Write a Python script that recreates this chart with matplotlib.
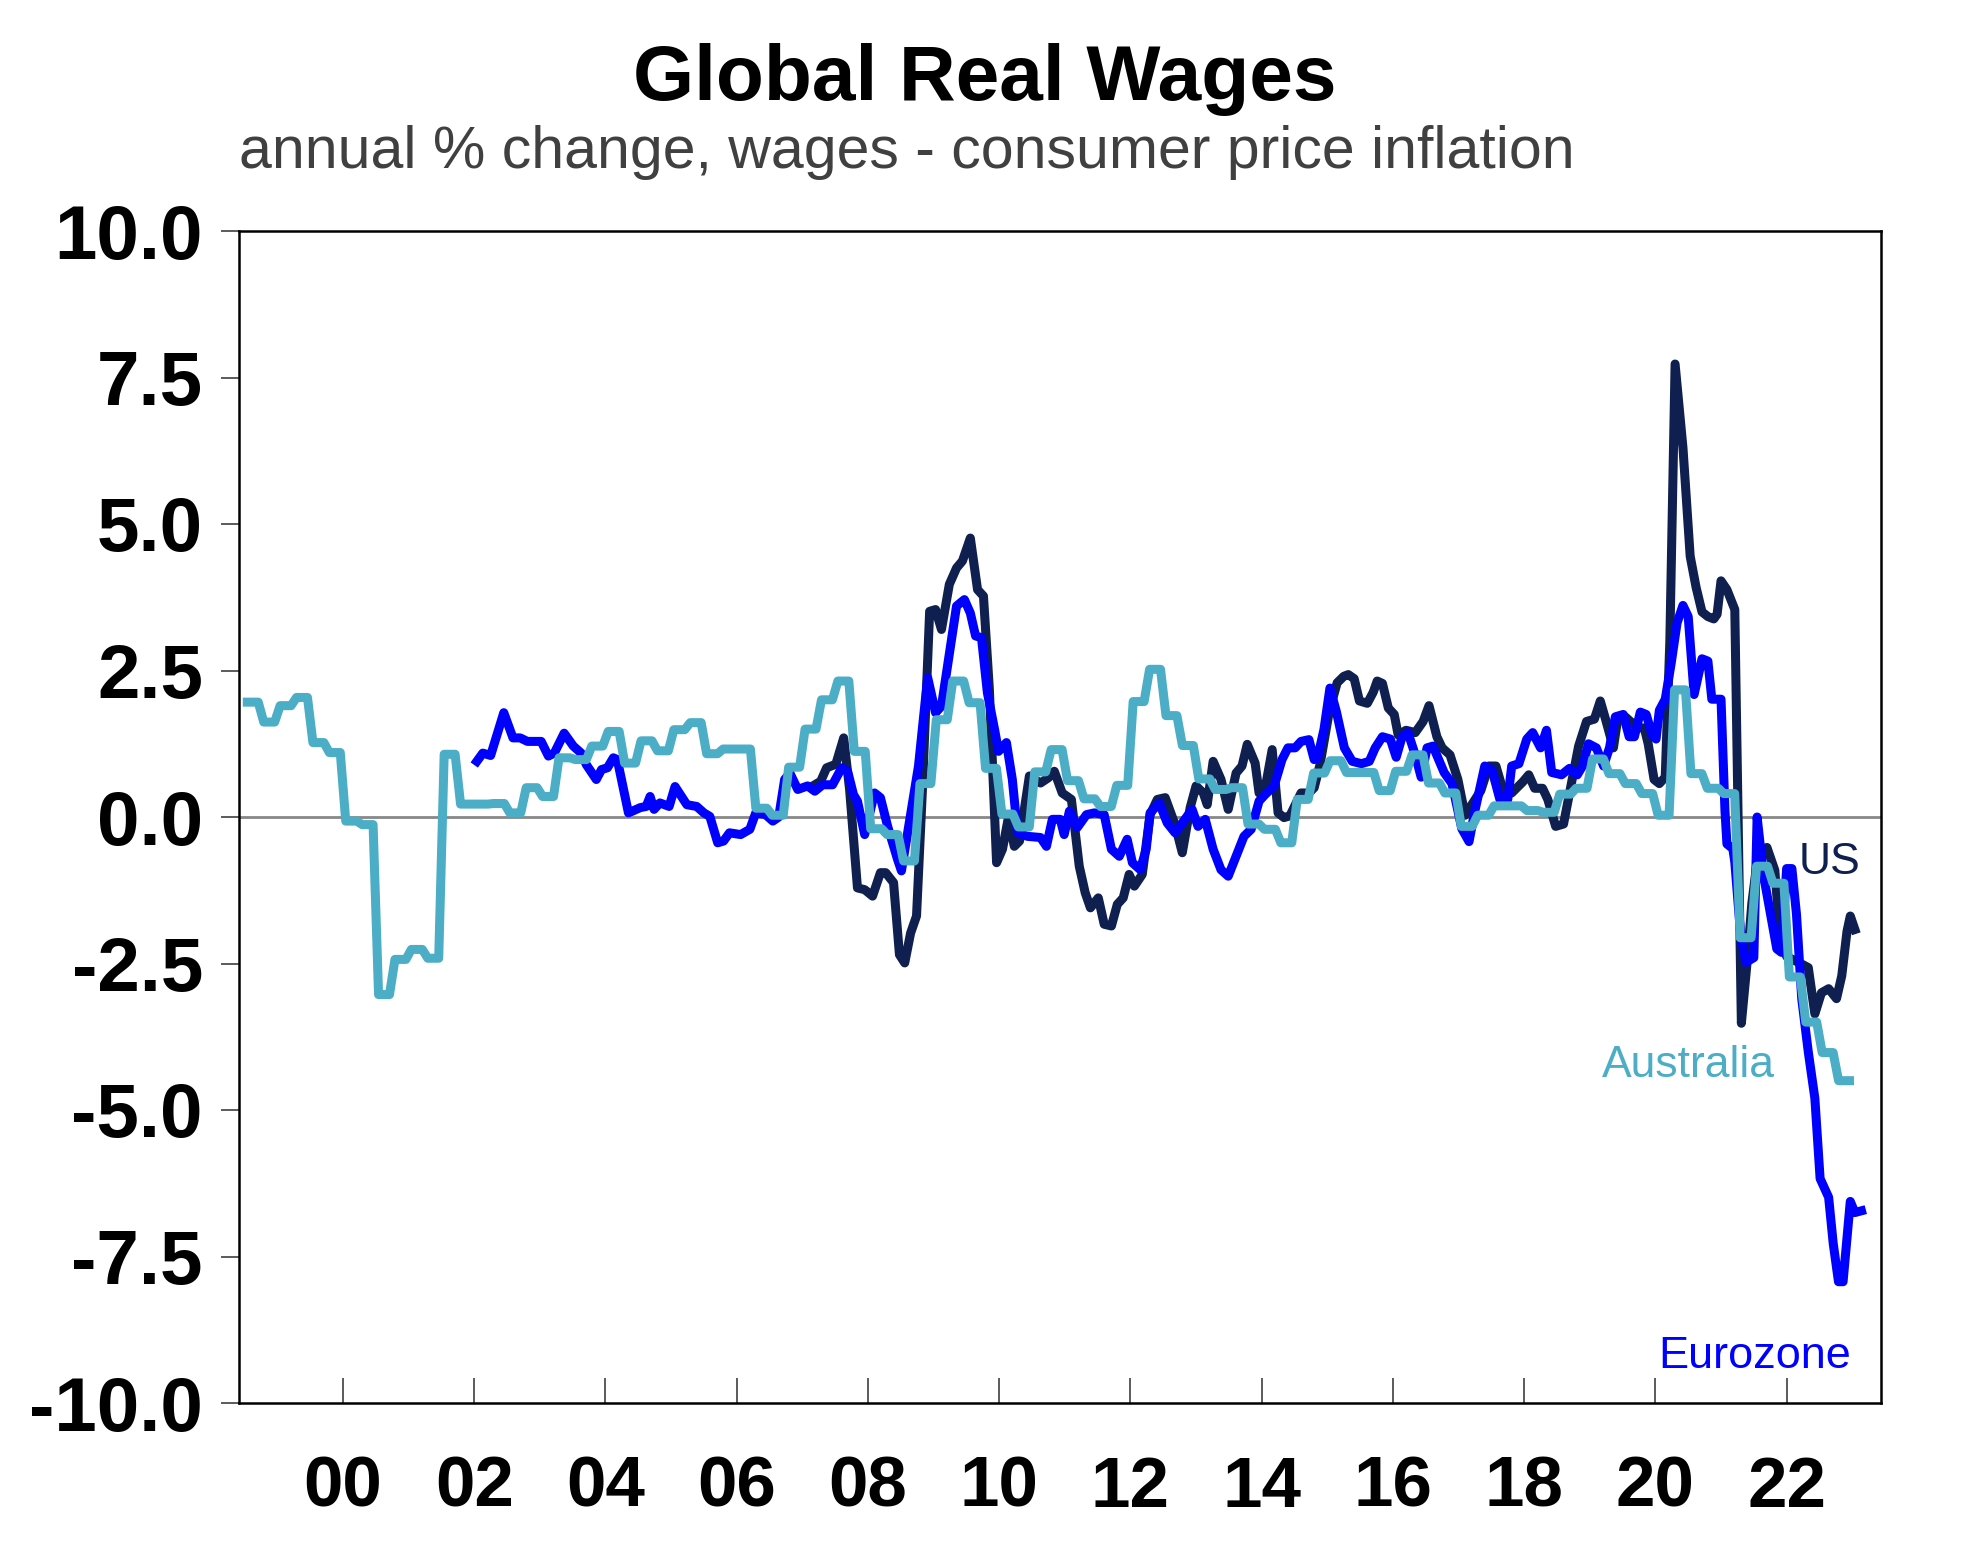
import numpy as np
import matplotlib
matplotlib.use('Agg')
import matplotlib.pyplot as plt

plt.rcParams['font.family'] = ['Liberation Sans', 'DejaVu Sans']
plt.rcParams['axes.unicode_minus'] = False

## Australia: quarterly values, Q3 1998 .. Q4 2022 (shown monthly, value held over the quarter)
au_first_quarter = 1998.5
au_q = [1.96, 1.62,
        1.90, 2.04, 1.27, 1.10,
        -0.07, -0.13, -3.03, -2.43,
        -2.26, -2.41, 1.07, 0.22,
        0.22, 0.23, 0.07, 0.50,
        0.35, 1.01, 0.98, 1.21,
        1.46, 0.92, 1.30, 1.13,
        1.49, 1.61, 1.08, 1.16,
        1.16, 0.15, 0.03, 0.85,
        1.50, 2.00, 2.32, 1.12,
        -0.20, -0.30, -0.75, 0.57,
        1.66, 2.32, 1.95, 0.83,
        0.05, -0.17, 0.77, 1.15,
        0.62, 0.31, 0.18, 0.54,
        1.97, 2.52, 1.73, 1.22,
        0.65, 0.47, 0.50, -0.12,
        -0.21, -0.44, 0.30, 0.75,
        0.96, 0.76, 0.76, 0.45,
        0.78, 1.06, 0.58, 0.41,
        -0.16, 0.03, 0.19, 0.19,
        0.11, 0.08, 0.39, 0.49,
        0.99, 0.74, 0.57, 0.40,
        0.03, 2.17, 0.74, 0.49,
        0.40, -2.06, -0.84, -1.13,
        -2.73, -3.50, -4.02, -4.50]

## Eurozone (decimal year, %)
ez_t = [2002.04, 2002.13, 2002.25, 2002.45, 2002.59, 2002.70, 2002.81, 2003.02, 2003.13, 2003.22,
        2003.37, 2003.51, 2003.63, 2003.71, 2003.86, 2003.94, 2004.03, 2004.12, 2004.18, 2004.35,
        2004.53, 2004.62, 2004.68, 2004.74, 2004.83, 2004.97, 2005.06, 2005.24, 2005.39, 2005.50,
        2005.59, 2005.71, 2005.80, 2005.89, 2006.06, 2006.20, 2006.29, 2006.44, 2006.55, 2006.64,
        2006.73, 2006.81, 2006.93, 2007.08, 2007.19, 2007.31, 2007.46, 2007.60, 2007.69, 2007.78,
        2007.84, 2007.95, 2008.10, 2008.19, 2008.30, 2008.45, 2008.51, 2008.65, 2008.77, 2008.91,
        2009.03, 2009.12, 2009.35, 2009.47, 2009.56, 2009.64, 2009.73, 2009.82, 2009.93, 2009.99,
        2010.11, 2010.20, 2010.28, 2010.43, 2010.63, 2010.72, 2010.81, 2010.93, 2010.99, 2011.07,
        2011.19, 2011.33, 2011.45, 2011.60, 2011.71, 2011.83, 2011.95, 2012.03, 2012.15, 2012.24,
        2012.30, 2012.44, 2012.56, 2012.68, 2012.79, 2012.94, 2013.03, 2013.14, 2013.26, 2013.38,
        2013.49, 2013.61, 2013.73, 2013.84, 2013.96, 2014.05, 2014.19, 2014.31, 2014.40, 2014.51,
        2014.60, 2014.72, 2014.80, 2014.85, 2014.95, 2015.04, 2015.14, 2015.26, 2015.38, 2015.52,
        2015.64, 2015.73, 2015.84, 2015.96, 2016.05, 2016.14, 2016.23, 2016.34, 2016.43, 2016.52,
        2016.61, 2016.78, 2016.90, 2017.05, 2017.16, 2017.25, 2017.40, 2017.51, 2017.63, 2017.75,
        2017.81, 2017.92, 2018.04, 2018.13, 2018.25, 2018.34, 2018.42, 2018.57, 2018.69, 2018.81,
        2018.89, 2018.98, 2019.10, 2019.21, 2019.30, 2019.39, 2019.51, 2019.60, 2019.68, 2019.77,
        2019.86, 2019.95, 2020.01, 2020.06, 2020.15, 2020.24, 2020.33, 2020.42, 2020.50, 2020.59,
        2020.71, 2020.80, 2020.86, 2021.00, 2021.06, 2021.09, 2021.18, 2021.21, 2021.30, 2021.38,
        2021.50, 2021.55, 2021.65, 2021.85, 2021.92, 2022.00, 2022.08, 2022.15, 2022.23, 2022.33,
        2022.43, 2022.51, 2022.64, 2022.71, 2022.79, 2022.86, 2022.97, 2023.04, 2023.14]
ez_v = [0.95, 1.09, 1.05, 1.78, 1.35, 1.35, 1.29, 1.29, 1.04, 1.09,
        1.43, 1.21, 1.09, 0.89, 0.64, 0.81, 0.84, 1.01, 0.98, 0.07,
        0.16, 0.18, 0.35, 0.13, 0.24, 0.18, 0.52, 0.21, 0.18, 0.07,
        0.01, -0.44, -0.41, -0.27, -0.30, -0.21, 0.07, 0.04, -0.07, 0.00,
        0.64, 0.75, 0.47, 0.53, 0.44, 0.55, 0.55, 0.84, 0.78, 0.38,
        0.27, -0.30, 0.41, 0.33, -0.16, -0.72, -0.92, 0.04, 0.87, 2.38,
        1.78, 1.89, 3.60, 3.71, 3.48, 3.09, 3.06, 2.12, 1.49, 1.12,
        1.27, 0.64, -0.27, -0.33, -0.35, -0.50, -0.04, -0.04, -0.30, 0.10,
        -0.18, 0.04, 0.07, 0.04, -0.55, -0.67, -0.38, -0.78, -0.90, -0.55,
        0.07, 0.24, -0.10, -0.27, -0.10, 0.13, -0.16, -0.04, -0.55, -0.90,
        -1.01, -0.67, -0.33, -0.21, 0.27, 0.38, 0.53, 0.98, 1.18, 1.18,
        1.29, 1.32, 0.98, 1.00, 1.50, 2.20, 1.79, 1.18, 0.95, 0.91,
        0.95, 1.18, 1.37, 1.33, 1.02, 1.37, 1.44, 1.06, 0.68, 1.18,
        1.21, 0.76, 0.57, -0.20, -0.42, 0.11, 0.87, 0.80, 0.30, 0.30,
        0.87, 0.91, 1.33, 1.44, 1.18, 1.48, 0.76, 0.72, 0.83, 0.72,
        0.87, 1.25, 1.18, 0.87, 1.18, 1.71, 1.75, 1.37, 1.37, 1.79,
        1.75, 1.40, 1.33, 1.82, 2.01, 2.62, 3.31, 3.61, 3.42, 2.09,
        2.70, 2.66, 2.01, 2.01, 0.11, -0.46, -0.54, -0.77, -2.02, -2.48,
        -2.40, 0.00, -1.01, -2.25, -2.31, -0.88, -0.88, -1.66, -3.10, -4.01,
        -4.80, -6.17, -6.49, -7.28, -7.93, -7.93, -6.56, -6.75, -6.72]

## US (decimal year, %)
us_t = [2007.19, 2007.28, 2007.37, 2007.51, 2007.63, 2007.72, 2007.84, 2007.95, 2008.07, 2008.19,
        2008.27, 2008.39, 2008.48, 2008.56, 2008.65, 2008.74, 2008.83, 2008.94, 2009.03, 2009.12,
        2009.24, 2009.35, 2009.44, 2009.56, 2009.67, 2009.76, 2009.85, 2009.96, 2010.05, 2010.14,
        2010.23, 2010.31, 2010.46, 2010.63, 2010.75, 2010.84, 2010.96, 2011.10, 2011.22, 2011.31,
        2011.39, 2011.51, 2011.60, 2011.71, 2011.80, 2011.89, 2011.98, 2012.06, 2012.18, 2012.30,
        2012.41, 2012.53, 2012.68, 2012.79, 2012.91, 2013.00, 2013.11, 2013.17, 2013.26, 2013.38,
        2013.49, 2013.61, 2013.70, 2013.78, 2013.90, 2013.96, 2014.05, 2014.16, 2014.25, 2014.34,
        2014.43, 2014.54, 2014.60, 2014.72, 2014.80, 2014.89, 2015.03, 2015.15, 2015.25, 2015.32,
        2015.41, 2015.49, 2015.61, 2015.70, 2015.76, 2015.84, 2015.93, 2016.02, 2016.08, 2016.20,
        2016.34, 2016.46, 2016.55, 2016.67, 2016.75, 2016.87, 2016.99, 2017.10, 2017.19, 2017.34,
        2017.46, 2017.57, 2017.69, 2017.81, 2017.98, 2018.07, 2018.16, 2018.28, 2018.36, 2018.48,
        2018.60, 2018.72, 2018.83, 2018.95, 2019.07, 2019.16, 2019.25, 2019.36, 2019.42, 2019.54,
        2019.62, 2019.74, 2019.83, 2019.89, 2019.98, 2020.06, 2020.15, 2020.22, 2020.30, 2020.42,
        2020.53, 2020.62, 2020.71, 2020.80, 2020.89, 2020.94, 2021.00, 2021.09, 2021.21, 2021.31,
        2021.39, 2021.47, 2021.57, 2021.70, 2021.82, 2021.90, 2022.00, 2022.23, 2022.33, 2022.43,
        2022.53, 2022.64, 2022.76, 2022.84, 2022.92, 2022.97, 2023.04]
us_v = [0.55, 0.61, 0.84, 0.90, 1.35, 0.47, -1.21, -1.24, -1.35, -0.95,
        -0.95, -1.12, -2.35, -2.49, -1.98, -1.69, 0.47, 3.51, 3.54, 3.20,
        3.97, 4.25, 4.37, 4.76, 3.88, 3.77, 2.18, -0.78, -0.55, -0.01,
        -0.50, -0.41, 0.70, 0.58, 0.67, 0.78, 0.41, 0.30, -0.84, -1.29,
        -1.55, -1.38, -1.83, -1.86, -1.49, -1.38, -0.98, -1.18, -0.98, 0.04,
        0.30, 0.33, -0.13, -0.61, 0.16, 0.53, 0.41, 0.21, 0.95, 0.64,
        0.13, 0.75, 0.87, 1.24, 0.92, 0.41, 0.47, 1.15, 0.07, -0.01,
        0.02, 0.27, 0.41, 0.41, 0.50, 0.90, 1.80, 2.29, 2.40, 2.43,
        2.36, 1.98, 1.94, 2.13, 2.32, 2.28, 1.86, 1.75, 1.40, 1.48,
        1.44, 1.63, 1.90, 1.37, 1.18, 1.06, 0.64, 0.03, 0.19, 0.45,
        0.87, 0.87, 0.41, 0.41, 0.60, 0.72, 0.49, 0.49, 0.30, -0.16,
        -0.12, 0.57, 1.21, 1.63, 1.67, 1.98, 1.63, 1.18, 1.63, 1.71,
        1.63, 1.52, 1.52, 1.25, 0.64, 0.57, 0.68, 3.00, 7.73, 6.30,
        4.45, 3.92, 3.50, 3.42, 3.38, 3.46, 4.03, 3.88, 3.54, -3.52,
        -2.57, -1.47, -0.58, -0.52, -0.91, -2.05, -2.38, -2.51, -2.57, -3.36,
        -3.00, -2.93, -3.10, -2.71, -1.95, -1.69, -1.92]

yticks = [-10.0, -7.5, -5.0, -2.5, 0.0, 2.5, 5.0, 7.5, 10.0]
xticks = list(range(2000, 2023, 2))
xlabels = ['%02d' % (y % 100) for y in xticks]

c_us = '#0E1F50'
c_ez = '#0000FF'
c_au = '#4BADC6'

# quarterly -> monthly (three equal months per quarter), plotted at mid-month
au_m = np.repeat(au_q, 3)
au_t = au_first_quarter + (np.arange(len(au_m)) + 0.5) / 12.0

fig = plt.figure(figsize=(19.70, 15.41), dpi=100)
ax = fig.add_axes([239/1970, 1-1403/1541, (1881-239)/1970, (1403-231)/1541])

lw = 6.5
ax.axhline(0, color='#888888', lw=2.0, zorder=1)
ax.plot(us_t, us_v, color=c_us, lw=lw, zorder=2, solid_joinstyle='round')
ax.plot(ez_t, ez_v, color=c_ez, lw=lw, zorder=3, solid_joinstyle='round')
ax.plot(au_t, au_m, color=c_au, lw=lw, zorder=4, solid_joinstyle='round')

ax.set_xlim(1998.415, 2023.438)
ax.set_ylim(-10, 10)
ax.set_yticks(yticks)
ax.set_yticklabels(['%.1f' % v for v in yticks], fontsize=55, fontweight='bold')
ax.set_xticks(xticks)
ax.set_xticklabels(xlabels, fontsize=51, fontweight='bold')
ax.tick_params(axis='y', direction='out', length=13, width=1.2, color='#404040', pad=13)
ax.tick_params(axis='x', direction='in', length=18, width=1.2, color='#404040', pad=38)
for s in ax.spines.values():
    s.set_linewidth(1.8)
    s.set_color('black')

ax.text(2022.19, -0.78, 'US', color=c_us, fontsize=32, ha='left', va='center')
ax.text(2021.82, -4.24, 'Australia', color=c_au, fontsize=32, ha='right', va='center')
ax.text(2022.98, -9.20, 'Eurozone', color=c_ez, fontsize=32.5, ha='right', va='center')

fig.text(0.5, 1-79/1541, 'Global Real Wages', fontsize=56.5, fontweight='bold', ha='center', va='center')
fig.text(239/1970, 1-152/1541, 'annual % change, wages - consumer price inflation',
         fontsize=42.5, color='#404040', ha='left', va='center')

fig.savefig('out.png', dpi=100)
